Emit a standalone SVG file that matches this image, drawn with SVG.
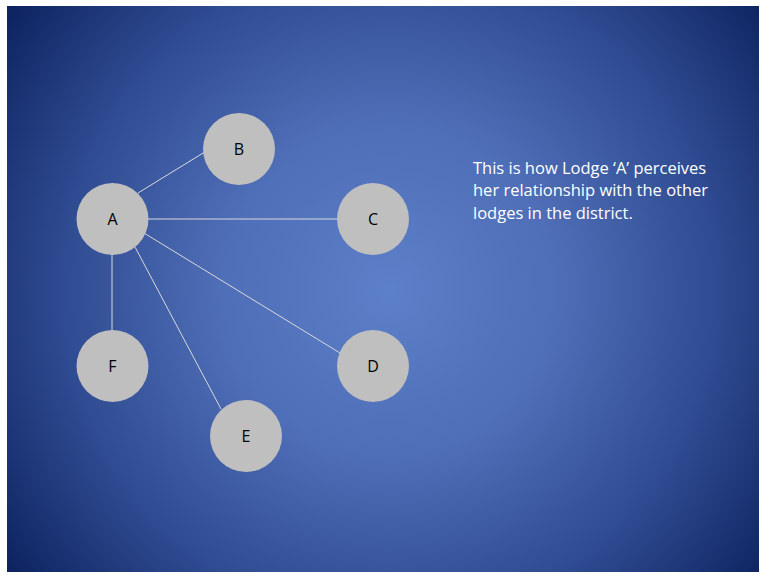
<svg xmlns="http://www.w3.org/2000/svg" width="761" height="575" viewBox="0 0 761 575">
<defs>
<radialGradient id="bg" cx="390" cy="290" r="470" gradientUnits="userSpaceOnUse">
<stop offset="0" stop-color="#5c80c9"/>
<stop offset="0.35" stop-color="#4f6fb8"/>
<stop offset="0.7" stop-color="#2f4b91"/>
<stop offset="1" stop-color="#0e2461"/>
</radialGradient>
<style>
.node circle{fill:#bfbfbf;}
.node text{font-family:"Open Sans","Liberation Sans",sans-serif;font-size:16px;fill:#000;text-anchor:middle;}
.conn line{stroke:#d9d9d9;stroke-width:1;}
.note{font-family:"Open Sans","Liberation Sans",sans-serif;font-size:16.5px;fill:#ffffff;}
</style>
</defs>
<rect width="761" height="575" fill="#ffffff"/>
<rect x="7" y="6" width="752" height="566" fill="url(#bg)"/>
<g id="connectors" class="conn">
<line x1="138" y1="193" x2="208" y2="150"/>
<line x1="148" y1="219" x2="337" y2="219"/>
<line x1="144" y1="233" x2="340" y2="353"/>
<line x1="135" y1="247" x2="221" y2="409"/>
<line x1="112" y1="255" x2="112" y2="330"/>
</g>
<g id="node-A" class="node"><circle cx="112.5" cy="219" r="36"/><text x="112.5" y="225">A</text></g>
<g id="node-B" class="node"><circle cx="239" cy="149" r="36"/><text x="239" y="155">B</text></g>
<g id="node-C" class="node"><circle cx="373" cy="219" r="36"/><text x="373" y="225">C</text></g>
<g id="node-D" class="node"><circle cx="373" cy="366" r="36"/><text x="373" y="372">D</text></g>
<g id="node-E" class="node"><circle cx="246" cy="436" r="36"/><text x="246" y="442">E</text></g>
<g id="node-F" class="node"><circle cx="112.5" cy="366" r="36"/><text x="112.5" y="372">F</text></g>
<g id="note">
<text class="note" x="473" y="174">This is how Lodge ‘A’ perceives</text>
<text class="note" x="473" y="196">her relationship with the other</text>
<text class="note" x="473" y="219">lodges in the district.</text>
</g>
</svg>
